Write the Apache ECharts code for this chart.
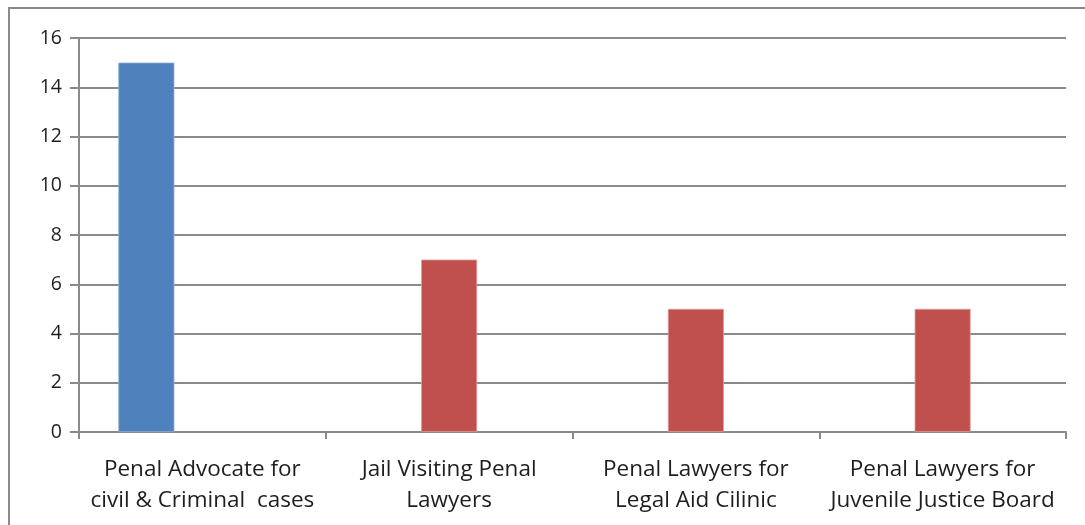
<!DOCTYPE html>
<html>
<head>
<meta charset="utf-8">
<script src="https://cdn.jsdelivr.net/npm/echarts@6/dist/echarts.min.js"></script>
<style>
  html, body { margin: 0; padding: 0; background: #fff; }
  #chart { width: 1085px; height: 525px; }
</style>
</head>
<body>
<div id="chart"></div>
<script>
// categories and values
const categories = [
    'Penal Advocate for\ncivil & Criminal  cases',
    'Jail Visiting Penal\nLawyers',
    'Penal Lawyers for\nLegal Aid Cilinic',
    'Penal Lawyers for\nJuvenile Justice Board'
];
const blueValues = [15, null, null, null];
const redValues = [null, 7, 5, 5];
const emptyValues = [null, null, null, null];
const yTicks = [0, 16, 2]; // min, max, interval

const chart = echarts.init(document.getElementById('chart'));
const fontFamily = '"Open Sans", "Noto Sans", sans-serif';
const gridColor = '#8a8a8a';

chart.setOption({
    animation: false,
    graphic: [{
        type: 'rect',
        shape: { x: 9, y: 8, width: 1200, height: 600 },
        style: { fill: 'none', stroke: '#8a8a8a', lineWidth: 2 },
        silent: true
    }],
    grid: { left: 79, top: 38, right: 19, bottom: 93 },
    xAxis: {
        type: 'category',
        data: categories,
        axisLine: { lineStyle: { color: gridColor, width: 2 } },
        axisTick: { show: true, length: 7, lineStyle: { color: gridColor, width: 2 } },
        axisLabel: {
            color: '#1e1e1e', fontSize: 22.5, fontFamily: fontFamily,
            lineHeight: 31, margin: 22, interval: 0
        }
    },
    yAxis: {
        type: 'value',
        min: yTicks[0], max: yTicks[1], interval: yTicks[2],
        axisLine: { show: true, lineStyle: { color: gridColor, width: 2 } },
        axisTick: { show: true, length: 9, lineStyle: { color: gridColor, width: 2 } },
        axisLabel: { color: '#1e1e1e', fontSize: 19.5, fontFamily: fontFamily, margin: 17 },
        splitLine: { lineStyle: { color: gridColor, width: 2 } }
    },
    series: [
        { name: 'A', type: 'bar', data: blueValues, barWidth: 56, barGap: '0%',
          itemStyle: { color: '#4f81bd', borderColor: '#8eacd6', borderWidth: 0.8 } },
        { name: 'B', type: 'bar', data: redValues, barWidth: 56, barGap: '0%',
          itemStyle: { color: '#c0504d', borderColor: '#dc9a98', borderWidth: 0.8 } },
        { name: 'C', type: 'bar', data: emptyValues, barWidth: 56, barGap: '0%' }
    ]
});
</script>
</body>
</html>
